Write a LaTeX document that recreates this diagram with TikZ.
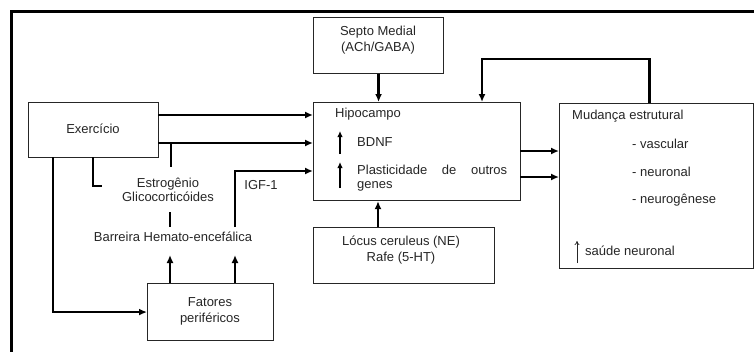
\documentclass[tikz,border=0pt]{standalone}
\usepackage{fontspec}
\setmainfont{Liberation Sans}
\usetikzlibrary{arrows.meta}
\begin{document}
\begin{tikzpicture}[x=1pt,y=-1pt,
  box/.style={draw=black!85, line width=1.1pt, anchor=north west, inner sep=0pt, fill=white},
  txt/.style={inner sep=0pt, text=black!85, font=\fontsize{13}{16}\selectfont},
  thick arr/.style={line width=2.6pt, -{Latex[length=8pt,width=7pt]}},
  thick line/.style={line width=2.6pt},
  small arr/.style={line width=2.6pt, -{Latex[length=7pt,width=6pt]}},
]
\useasboundingbox (0,0) rectangle (754,351);
% frame
\draw[line width=3pt] (11.5,352) -- (11.5,11.5) -- (755,11.5);

% boxes
\node[box, minimum width=130pt, minimum height=56pt] (septo) at (313,17) {};
\node[box, minimum width=207pt, minimum height=98pt] (hipo) at (313,102) {};
\node[box, minimum width=194pt, minimum height=165pt] (mud) at (559,103) {};
\node[box, minimum width=130pt, minimum height=55pt] (exer) at (28,102) {};
\node[box, minimum width=126pt, minimum height=57pt] (fat) at (147,283) {};
\node[box, minimum width=181pt, minimum height=56pt] (locus) at (313,227) {};

% box texts
\node[txt, align=center] (septotxt) at (378,40) {Septo Medial\\(ACh/GABA)};
\node[txt] (exertxt) at (93,129) {Exercício};
\node[txt, align=center] (fattxt) at (210,311) {Fatores\\periféricos};
\node[txt, align=center] (locustxt) at (401,250) {Lócus ceruleus (NE)\\Rafe (5-HT)};

\node[txt, anchor=west] (hipotxt) at (335,114) {Hipocampo};
\node[txt, anchor=west] (bdnf) at (357,142) {BDNF};
\node[txt, anchor=west] (plast) at (357,170) {\hbox to 150pt{Plasticidade\hfill de\hfill outros}};
\node[txt, anchor=west] (genes) at (357,186) {genes};
\coordinate (u1a) at (340,154);
\coordinate (u1b) at (340,131);
\coordinate (u2a) at (340,188);
\coordinate (u2b) at (340,162);
\draw[line width=1.8pt, -{Latex[length=6pt,width=5.5pt]}] (u1a) -- (u1b);
\draw[line width=1.8pt, -{Latex[length=6pt,width=5.5pt]}] (u2a) -- (u2b);

\node[txt, anchor=west] (mudtxt) at (572,116) {Mudança estrutural};
\node[txt, anchor=west] (vasc) at (632,144) {- vascular};
\node[txt, anchor=west] (neur) at (632,172) {- neuronal};
\node[txt, anchor=west] (neurog) at (632,200) {- neurogênese};
\node[txt, anchor=west] (saude) at (585,251) {saúde neuronal};
\coordinate (s1a) at (577,263);
\coordinate (s1b) at (577,241);
\draw[line width=0.7pt, black!85, -{To[length=4pt,width=5pt]}] (s1a) -- (s1b);

% free texts
\node[txt, align=center, font=\fontsize{13}{14}\selectfont] (estro) at (168,190) {Estrogênio\\Glicocorticóides};
\node[txt] (barreira) at (173,237) {Barreira Hemato-encefálica};
\node[txt] (igf) at (261,185) {IGF-1};

% connectors
\draw[thick arr] (septo.south) -- (septo.south |- hipo.north);
\coordinate (fb) at (482,59);
\draw[thick arr] ([xshift=-7pt]mud.north) |- (fb) -- (fb |- hipo.north);

\coordinate (e1) at (158,115);
\coordinate (e2) at (158,143);
\draw[thick arr] (e1) -- (e1 -| hipo.west);
\draw[thick arr] (e2) -- (e2 -| hipo.west);
\coordinate (st) at (171,143);
\draw[thick line] (st) -- (171,167);

\coordinate (igfb) at (235,227);
\coordinate (igft) at (235,171);
\draw[thick arr] (igfb) -- (igft) -- (igft -| hipo.west);

\coordinate (h1) at (520,151);
\coordinate (h2) at (520,177);
\draw[thick arr] (h1) -- (h1 -| mud.west);
\draw[thick arr] (h2) -- (h2 -| mud.west);

\coordinate (lc) at (378,227);
\draw[thick arr] (lc) -- (lc |- hipo.south);

\draw[thick line] (170,212) -- (170,227);

\coordinate (f1) at (170,283);
\coordinate (f2) at (235,283);
\draw[thick arr] (f1) -- (170,255);
\draw[thick arr] (f2) -- (235,255);

\coordinate (x1) at (53,157);
\draw[thick arr] (x1) |- (fat.west);
\coordinate (x2) at (93,157);
\draw[thick line] (x2) |- (102,186);
\end{tikzpicture}
\end{document}
